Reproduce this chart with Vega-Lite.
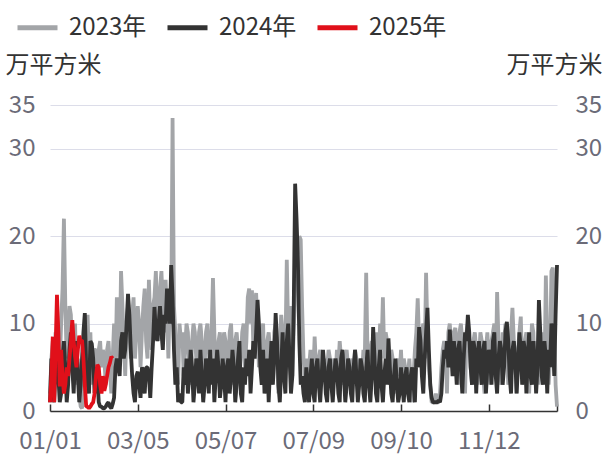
{
  "$schema": "https://vega.github.io/schema/vega-lite/v6.json",
  "width": 507,
  "height": 306,
  "autosize": {"type": "none"},
  "padding": {"left": 50, "top": 105, "right": 46, "bottom": 46},
  "background": "white",
  "config": {
    "view": {"stroke": null},
    "font": "Noto Sans CJK SC"
  },
  "data": {"values": [
{"i":0,"2023年":2,"2024年":1,"2025年":1},{"i":1,"2023年":6,"2024年":6,"2025年":4},{"i":2,"2023年":8,"2024年":3,"2025年":8.5},{"i":3,"2023年":4,"2024年":1,"2025年":1},{"i":4,"2023年":9,"2024年":5,"2025年":7},{"i":5,"2023年":7,"2024年":7,"2025年":13.3},{"i":6,"2023年":3,"2024年":4,"2025年":9},{"i":7,"2023年":5,"2024年":1,"2025年":2.8},{"i":8,"2023年":10,"2024年":2,"2025年":7},{"i":9,"2023年":14,"2024年":6,"2025年":4},
{"i":10,"2023年":22,"2024年":8,"2025年":2},{"i":11,"2023年":12,"2024年":5,"2025年":3},{"i":12,"2023年":6,"2024年":1,"2025年":5},{"i":13,"2023年":9,"2024年":3,"2025年":4},{"i":14,"2023年":12,"2024年":7,"2025年":6},{"i":15,"2023年":11,"2024年":9,"2025年":8},{"i":16,"2023年":5,"2024年":5,"2025年":10.4},{"i":17,"2023年":8,"2024年":2,"2025年":8},{"i":18,"2023年":10,"2024年":6,"2025年":6.2},{"i":19,"2023年":3,"2024年":8,"2025年":5},
{"i":20,"2023年":6,"2024年":4,"2025年":7},{"i":21,"2023年":2,"2024年":1,"2025年":8.6},{"i":22,"2023年":0.5,"2024年":3,"2025年":8},{"i":23,"2023年":0.3,"2024年":6,"2025年":8.1},{"i":24,"2023年":4,"2024年":9,"2025年":6},{"i":25,"2023年":7,"2024年":11.2,"2025年":3},{"i":26,"2023年":9,"2024年":5,"2025年":0.5},{"i":27,"2023年":11,"2024年":3,"2025年":0.5},{"i":28,"2023年":5,"2024年":2,"2025年":0.3},{"i":29,"2023年":9,"2024年":8,"2025年":0.5},
{"i":30,"2023年":3,"2024年":7.7,"2025年":0.8},{"i":31,"2023年":6,"2024年":6,"2025年":1},{"i":32,"2023年":7,"2024年":2,"2025年":2},{"i":33,"2023年":7,"2024年":5,"2025年":4},{"i":34,"2023年":4,"2024年":4,"2025年":5.3},{"i":35,"2023年":7,"2024年":1,"2025年":5},{"i":36,"2023年":8,"2024年":0.5,"2025年":3},{"i":37,"2023年":5,"2024年":0.5,"2025年":2},{"i":38,"2023年":7,"2024年":0.3,"2025年":4},{"i":39,"2023年":6,"2024年":0.3,"2025年":2.3},
{"i":40,"2023年":3,"2024年":0.5,"2025年":3},{"i":41,"2023年":7,"2024年":0.8,"2025年":4},{"i":42,"2023年":8,"2024年":1,"2025年":5},{"i":43,"2023年":5,"2024年":0.5,"2025年":5.5},{"i":44,"2023年":2,"2024年":0.3,"2025年":6.2},{"i":45,"2023年":6,"2024年":0.8,"2025年":6},{"i":46,"2023年":10,"2024年":1.5},{"i":47,"2023年":5,"2024年":5},{"i":48,"2023年":13,"2024年":6},{"i":49,"2023年":9,"2024年":5},
{"i":50,"2023年":6,"2024年":4},{"i":51,"2023年":16,"2024年":8},{"i":52,"2023年":12,"2024年":9},{"i":53,"2023年":8,"2024年":6},{"i":54,"2023年":4,"2024年":7},{"i":55,"2023年":10,"2024年":10},{"i":56,"2023年":12,"2024年":13.4},{"i":57,"2023年":9,"2024年":11},{"i":58,"2023年":6,"2024年":7},{"i":59,"2023年":11,"2024年":4},
{"i":60,"2023年":13,"2024年":2},{"i":61,"2023年":6,"2024年":1},{"i":62,"2023年":9,"2024年":4},{"i":63,"2023年":12,"2024年":4.5},{"i":64,"2023年":10,"2024年":3},{"i":65,"2023年":5,"2024年":1.5},{"i":66,"2023年":9,"2024年":5},{"i":67,"2023年":12,"2024年":4.5},{"i":68,"2023年":14,"2024年":2},{"i":69,"2023年":8,"2024年":5},
{"i":70,"2023年":6,"2024年":5},{"i":71,"2023年":15,"2024年":4},{"i":72,"2023年":10,"2024年":1.5},{"i":73,"2023年":7,"2024年":5},{"i":74,"2023年":12,"2024年":8},{"i":75,"2023年":13,"2024年":11.9},{"i":76,"2023年":16,"2024年":9},{"i":77,"2023年":11,"2024年":8},{"i":78,"2023年":8,"2024年":10},{"i":79,"2023年":14,"2024年":12},
{"i":80,"2023年":16,"2024年":9},{"i":81,"2023年":12,"2024年":7},{"i":82,"2023年":9,"2024年":11},{"i":83,"2023年":15,"2024年":10},{"i":84,"2023年":11,"2024年":14},{"i":85,"2023年":6,"2024年":12},{"i":86,"2023年":13,"2024年":10},{"i":87,"2023年":10,"2024年":16.7},{"i":88,"2023年":33.5,"2024年":13},{"i":89,"2023年":12,"2024年":7},
{"i":90,"2023年":9,"2024年":3},{"i":91,"2023年":5,"2024年":5},{"i":92,"2023年":3,"2024年":1},{"i":93,"2023年":10,"2024年":2},{"i":94,"2023年":8,"2024年":1},{"i":95,"2023年":9,"2024年":1},{"i":96,"2023年":4,"2024年":5},{"i":97,"2023年":7,"2024年":3},{"i":98,"2023年":10,"2024年":6},{"i":99,"2023年":9,"2024年":2},
{"i":100,"2023年":5,"2024年":4},{"i":101,"2023年":3,"2024年":7},{"i":102,"2023年":8,"2024年":5},{"i":103,"2023年":10,"2024年":1},{"i":104,"2023年":9,"2024年":3},{"i":105,"2023年":6,"2024年":6},{"i":106,"2023年":4,"2024年":5},{"i":107,"2023年":9,"2024年":2},{"i":108,"2023年":10,"2024年":7},{"i":109,"2023年":8,"2024年":4},
{"i":110,"2023年":3,"2024年":1},{"i":111,"2023年":5,"2024年":3},{"i":112,"2023年":9,"2024年":6},{"i":113,"2023年":10,"2024年":5},{"i":114,"2023年":7,"2024年":2},{"i":115,"2023年":4,"2024年":7},{"i":116,"2023年":9,"2024年":3},{"i":117,"2023年":15.2,"2024年":6},{"i":118,"2023年":9,"2024年":1},{"i":119,"2023年":4,"2024年":4},
{"i":120,"2023年":6,"2024年":7},{"i":121,"2023年":8,"2024年":5},{"i":122,"2023年":9,"2024年":1.5},{"i":123,"2023年":3,"2024年":3},{"i":124,"2023年":7,"2024年":6},{"i":125,"2023年":9,"2024年":4},{"i":126,"2023年":8,"2024年":1},{"i":127,"2023年":4,"2024年":5},{"i":128,"2023年":5,"2024年":6},{"i":129,"2023年":9,"2024年":2},
{"i":130,"2023年":10,"2024年":4},{"i":131,"2023年":6,"2024年":7},{"i":132,"2023年":3,"2024年":5},{"i":133,"2023年":8,"2024年":1},{"i":134,"2023年":9,"2024年":3},{"i":135,"2023年":7,"2024年":6},{"i":136,"2023年":4,"2024年":8},{"i":137,"2023年":6,"2024年":2},{"i":138,"2023年":9,"2024年":1},{"i":139,"2023年":10,"2024年":5},
{"i":140,"2023年":5,"2024年":3},{"i":141,"2023年":8,"2024年":6},{"i":142,"2023年":13,"2024年":4},{"i":143,"2023年":14,"2024年":7},{"i":144,"2023年":10,"2024年":2},{"i":145,"2023年":13.8,"2024年":5},{"i":146,"2023年":7,"2024年":8},{"i":147,"2023年":12,"2024年":6},{"i":148,"2023年":13.5,"2024年":9},{"i":149,"2023年":9,"2024年":12.7},
{"i":150,"2023年":5,"2024年":10},{"i":151,"2023年":6,"2024年":5},{"i":152,"2023年":9,"2024年":3},{"i":153,"2023年":10,"2024年":7},{"i":154,"2023年":4,"2024年":2},{"i":155,"2023年":3,"2024年":4},{"i":156,"2023年":8,"2024年":6},{"i":157,"2023年":9,"2024年":1},{"i":158,"2023年":7,"2024年":5},{"i":159,"2023年":3,"2024年":8},
{"i":160,"2023年":5,"2024年":3},{"i":161,"2023年":9,"2024年":6},{"i":162,"2023年":10,"2024年":11.2},{"i":163,"2023年":6,"2024年":8},{"i":164,"2023年":2,"2024年":3},{"i":165,"2023年":8,"2024年":1},{"i":166,"2023年":11,"2024年":5},{"i":167,"2023年":9,"2024年":9},{"i":168,"2023年":4,"2024年":4},{"i":169,"2023年":7,"2024年":2},
{"i":170,"2023年":17.3,"2024年":8},{"i":171,"2023年":9,"2024年":10},{"i":172,"2023年":6,"2024年":6},{"i":173,"2023年":12,"2024年":2},{"i":174,"2023年":4,"2024年":4},{"i":175,"2023年":9,"2024年":12},{"i":176,"2023年":14,"2024年":26},{"i":177,"2023年":19,"2024年":22},{"i":178,"2023年":18,"2024年":17},{"i":179,"2023年":20,"2024年":8},
{"i":180,"2023年":19.6,"2024年":3},{"i":181,"2023年":12,"2024年":4},{"i":182,"2023年":6,"2024年":2},{"i":183,"2023年":4,"2024年":1},{"i":184,"2023年":6,"2024年":5},{"i":185,"2023年":3,"2024年":3},{"i":186,"2023年":5,"2024年":1},{"i":187,"2023年":7,"2024年":4},{"i":188,"2023年":6,"2024年":6},{"i":189,"2023年":4,"2024年":2},
{"i":190,"2023年":8.5,"2024年":1},{"i":191,"2023年":5,"2024年":5},{"i":192,"2023年":3,"2024年":6},{"i":193,"2023年":6,"2024年":3},{"i":194,"2023年":7,"2024年":1},{"i":195,"2023年":5,"2024年":4},{"i":196,"2023年":4,"2024年":7},{"i":197,"2023年":6,"2024年":5},{"i":198,"2023年":3,"2024年":2},{"i":199,"2023年":5,"2024年":1},
{"i":200,"2023年":7,"2024年":5},{"i":201,"2023年":6,"2024年":6},{"i":202,"2023年":3,"2024年":3},{"i":203,"2023年":5,"2024年":1},{"i":204,"2023年":6,"2024年":4},{"i":205,"2023年":4,"2024年":6},{"i":206,"2023年":7,"2024年":5},{"i":207,"2023年":5,"2024年":2},{"i":208,"2023年":8,"2024年":1},{"i":209,"2023年":6,"2024年":6},
{"i":210,"2023年":4,"2024年":7},{"i":211,"2023年":3,"2024年":4},{"i":212,"2023年":6,"2024年":1},{"i":213,"2023年":7,"2024年":3},{"i":214,"2023年":5,"2024年":6},{"i":215,"2023年":3,"2024年":5},{"i":216,"2023年":5,"2024年":2},{"i":217,"2023年":6,"2024年":1},{"i":218,"2023年":4,"2024年":5},{"i":219,"2023年":7,"2024年":7},
{"i":220,"2023年":6,"2024年":4},{"i":221,"2023年":3,"2024年":1},{"i":222,"2023年":5,"2024年":3},{"i":223,"2023年":6,"2024年":6},{"i":224,"2023年":4,"2024年":5},{"i":225,"2023年":7,"2024年":2},{"i":226,"2023年":6,"2024年":1},{"i":227,"2023年":15.8,"2024年":5},{"i":228,"2023年":6,"2024年":7},{"i":229,"2023年":4,"2024年":3},
{"i":230,"2023年":7,"2024年":1},{"i":231,"2023年":8,"2024年":4},{"i":232,"2023年":5,"2024年":9.6},{"i":233,"2023年":7,"2024年":6},{"i":234,"2023年":9,"2024年":2},{"i":235,"2023年":4,"2024年":1},{"i":236,"2023年":6,"2024年":5},{"i":237,"2023年":10,"2024年":7},{"i":238,"2023年":7,"2024年":3},{"i":239,"2023年":13,"2024年":1},
{"i":240,"2023年":6,"2024年":4},{"i":241,"2023年":9,"2024年":6},{"i":242,"2023年":8,"2024年":3},{"i":243,"2023年":5,"2024年":8.3},{"i":244,"2023年":3,"2024年":5},{"i":245,"2023年":7,"2024年":2},{"i":246,"2023年":6,"2024年":1},{"i":247,"2023年":4,"2024年":4},{"i":248,"2023年":2,"2024年":6},{"i":249,"2023年":5,"2024年":3},
{"i":250,"2023年":6,"2024年":1},{"i":251,"2023年":4,"2024年":2},{"i":252,"2023年":7,"2024年":5},{"i":253,"2023年":3,"2024年":3},{"i":254,"2023年":6,"2024年":1},{"i":255,"2023年":5,"2024年":4},{"i":256,"2023年":2,"2024年":5},{"i":257,"2023年":4,"2024年":2},{"i":258,"2023年":6,"2024年":1},{"i":259,"2023年":3,"2024年":4},
{"i":260,"2023年":1,"2024年":5},{"i":261,"2023年":4,"2024年":3},{"i":262,"2023年":7,"2024年":1},{"i":263,"2023年":9,"2024年":6},{"i":264,"2023年":12.9,"2024年":5},{"i":265,"2023年":8,"2024年":9.6},{"i":266,"2023年":5,"2024年":8},{"i":267,"2023年":9,"2024年":4},{"i":268,"2023年":10,"2024年":2},{"i":269,"2023年":6,"2024年":6},
{"i":270,"2023年":15.8,"2024年":9},{"i":271,"2023年":9,"2024年":11.8},{"i":272,"2023年":5,"2024年":7},{"i":273,"2023年":3,"2024年":3},{"i":274,"2023年":1,"2024年":1.5},{"i":275,"2023年":1,"2024年":1},{"i":276,"2023年":1,"2024年":1},{"i":277,"2023年":2,"2024年":1},{"i":278,"2023年":1,"2024年":1},{"i":279,"2023年":1,"2024年":1.2},
{"i":280,"2023年":2,"2024年":1},{"i":281,"2023年":5,"2024年":2},{"i":282,"2023年":7,"2024年":5},{"i":283,"2023年":8,"2024年":7},{"i":284,"2023年":7,"2024年":6},{"i":285,"2023年":2,"2024年":8},{"i":286,"2023年":9,"2024年":5},{"i":287,"2023年":10,"2024年":9.3},{"i":288,"2023年":8,"2024年":7},{"i":289,"2023年":5,"2024年":4},
{"i":290,"2023年":9,"2024年":8},{"i":291,"2023年":9.5,"2024年":6},{"i":292,"2023年":7,"2024年":3},{"i":293,"2023年":3,"2024年":7},{"i":294,"2023年":9,"2024年":8},{"i":295,"2023年":10,"2024年":5},{"i":296,"2023年":8,"2024年":2},{"i":297,"2023年":6,"2024年":6},{"i":298,"2023年":2,"2024年":9},{"i":299,"2023年":9,"2024年":8},
{"i":300,"2023年":10,"2024年":11},{"i":301,"2023年":8,"2024年":9},{"i":302,"2023年":5,"2024年":5},{"i":303,"2023年":3,"2024年":3},{"i":304,"2023年":8,"2024年":8},{"i":305,"2023年":9,"2024年":7},{"i":306,"2023年":7,"2024年":2},{"i":307,"2023年":3,"2024年":6},{"i":308,"2023年":6,"2024年":8},{"i":309,"2023年":9,"2024年":5},
{"i":310,"2023年":8,"2024年":3},{"i":311,"2023年":4,"2024年":7},{"i":312,"2023年":2,"2024年":8},{"i":313,"2023年":7,"2024年":2},{"i":314,"2023年":9,"2024年":5},{"i":315,"2023年":6,"2024年":7},{"i":316,"2023年":3,"2024年":6},{"i":317,"2023年":8,"2024年":3},{"i":318,"2023年":9,"2024年":8},{"i":319,"2023年":10,"2024年":9},
{"i":320,"2023年":4,"2024年":4},{"i":321,"2023年":13.6,"2024年":2},{"i":322,"2023年":8,"2024年":6},{"i":323,"2023年":5,"2024年":8},{"i":324,"2023年":3,"2024年":7},{"i":325,"2023年":9,"2024年":3},{"i":326,"2023年":8,"2024年":5},{"i":327,"2023年":10,"2024年":9},{"i":328,"2023年":7,"2024年":10.2},{"i":329,"2023年":3,"2024年":8},
{"i":330,"2023年":4,"2024年":4},{"i":331,"2023年":9,"2024年":2},{"i":332,"2023年":11.8,"2024年":7},{"i":333,"2023年":8,"2024年":8},{"i":334,"2023年":6,"2024年":6},{"i":335,"2023年":2,"2024年":2},{"i":336,"2023年":7,"2024年":5},{"i":337,"2023年":9,"2024年":9},{"i":338,"2023年":10.8,"2024年":7},{"i":339,"2023年":5,"2024年":3},
{"i":340,"2023年":3,"2024年":8},{"i":341,"2023年":8,"2024年":7},{"i":342,"2023年":9,"2024年":2},{"i":343,"2023年":7,"2024年":6},{"i":344,"2023年":2,"2024年":9},{"i":345,"2023年":6,"2024年":4},{"i":346,"2023年":10,"2024年":3},{"i":347,"2023年":9,"2024年":8},{"i":348,"2023年":4,"2024年":6},{"i":349,"2023年":5,"2024年":2},
{"i":350,"2023年":8,"2024年":5},{"i":351,"2023年":3,"2024年":12.7},{"i":352,"2023年":6,"2024年":9},{"i":353,"2023年":9,"2024年":4},{"i":354,"2023年":7,"2024年":3},{"i":355,"2023年":4,"2024年":8},{"i":356,"2023年":15.5,"2024年":6},{"i":357,"2023年":8,"2024年":2},{"i":358,"2023年":3,"2024年":7},{"i":359,"2023年":6,"2024年":5},
{"i":360,"2023年":16,"2024年":10},{"i":361,"2023年":16.4,"2024年":9},{"i":362,"2023年":10,"2024年":4},{"i":363,"2023年":3,"2024年":11},{"i":364,"2023年":0.5,"2024年":16.7}
  ]},
  "transform": [
    {"fold": ["2023年", "2024年", "2025年"], "as": ["k", "v"]},
    {"filter": "isValid(datum.v)"}
  ],
  "layer": [
    {
      "mark": {"type": "line", "strokeWidth": 3.8, "strokeJoin": "bevel", "interpolate": "linear"},
      "encoding": {
        "x": {
          "field": "i", "type": "quantitative",
          "scale": {"domain": [0, 364], "nice": false},
          "axis": {
            "orient": "bottom", "title": null, "grid": false,
            "values": [0, 63, 126, 189, 252, 315, 364],
            "labelExpr": "datum.value == 0 ? '01/01' : datum.value == 63 ? '03/05' : datum.value == 126 ? '05/07' : datum.value == 189 ? '07/09' : datum.value == 252 ? '09/10' : datum.value == 315 ? '11/12' : ''",
            "domainColor": "#333333", "domainWidth": 1.5,
            "tickColor": "#333333", "tickWidth": 1.5, "tickSize": -7,
            "labelPadding": 25, "labelFontSize": 24, "labelColor": "#6b6b78",
            "labelFlush": false, "labelOverlap": false, "labelFont": "Noto Sans CJK SC"
          }
        },
        "y": {
          "field": "v", "type": "quantitative",
          "scale": {"domain": [0, 35], "nice": false},
          "axis": {
            "orient": "left", "values": [0, 10, 20, 30, 35],
            "grid": true, "gridColor": "#dcdde9", "gridWidth": 1.2,
            "domain": false, "ticks": false,
            "labelFontSize": 24, "labelColor": "#6b6b78", "labelPadding": 15, "labelFont": "Noto Sans CJK SC",
            "title": "万平方米", "titleAngle": 0, "titleAlign": "left", "titleBaseline": "middle",
            "titleX": -45, "titleY": -40, "titleFontSize": 24, "titleFontWeight": "normal",
            "titleColor": "#333333", "titleFont": "Noto Sans CJK SC"
          }
        },
        "color": {
          "field": "k", "type": "nominal",
          "scale": {"domain": ["2023年", "2024年", "2025年"], "range": ["#a3a5a8", "#333333", "#e0101a"]},
          "legend": {
            "orient": "none", "legendX": -35, "legendY": -100, "direction": "horizontal",
            "title": null, "symbolType": "stroke", "symbolSize": 1600, "symbolStrokeWidth": 5,
            "labelFontSize": 24, "labelFont": "Noto Sans CJK SC", "labelColor": "#333333",
            "labelOffset": 9, "columnPadding": 10, "padding": 0
          }
        }
      }
    },
    {
      "mark": {"type": "line", "opacity": 0},
      "encoding": {
        "x": {"field": "i", "type": "quantitative"},
        "y": {
          "field": "v", "type": "quantitative",
          "axis": {
            "orient": "right", "values": [0, 10, 20, 30, 35],
            "grid": false, "domain": false, "ticks": false,
            "labelFontSize": 24, "labelColor": "#6b6b78", "labelPadding": 18, "labelFont": "Noto Sans CJK SC",
            "title": "万平方米", "titleAngle": 0, "titleAlign": "right", "titleBaseline": "middle",
            "titleX": 45, "titleY": -40, "titleFontSize": 24, "titleFontWeight": "normal",
            "titleColor": "#333333", "titleFont": "Noto Sans CJK SC"
          }
        },
        "detail": {"field": "k"}
      }
    }
  ],
  "resolve": {"axis": {"y": "independent"}}
}
